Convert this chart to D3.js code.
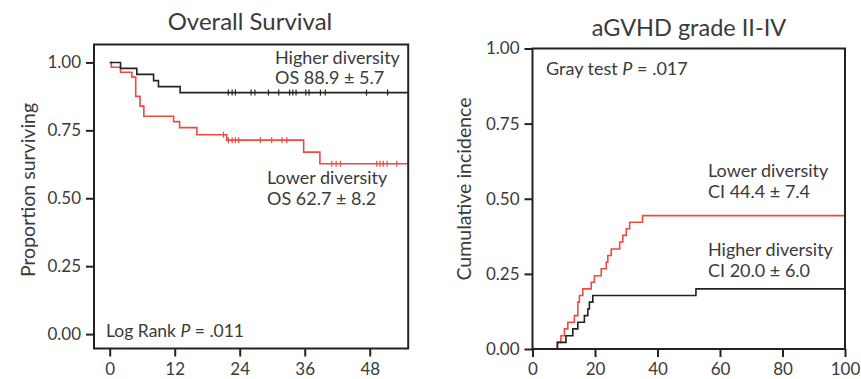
<!DOCTYPE html>
<html>
<head>
<meta charset="utf-8">
<script src="https://cdn.jsdelivr.net/npm/d3@7"></script>
<style>
  html, body { margin: 0; padding: 0; background: #fff; }
  svg { display: block; }
  text { font-family: Lato, "Open Sans", sans-serif; fill: #3a3a3a; }
</style>
</head>
<body>
<svg id="chart" width="861" height="379"></svg>
<script>
// ---- Overall survival (months) ----
const osTicks = [0, 12, 24, 36, 48];
const propTicks = [0, 0.25, 0.5, 0.75, 1];

const osHighTime = [0, 2.0, 5.0, 8.1, 9.0, 13.0];
const osHighSurv = [1, 0.978, 0.956, 0.933, 0.911, 0.889];
const osHighCensor = [21.9, 22.6, 23.2, 26.1, 26.8, 29.3, 31.2, 33.2, 33.8, 34.4, 36.2, 36.8, 38.9, 39.8, 47.4, 51.3];

const osLowTime = [0, 0.3, 2.0, 4.1, 4.8, 5.6, 6.3, 11.8, 12.9, 16.1, 21.6, 35.8, 38.8];
const osLowSurv = [1, 0.982, 0.964, 0.946, 0.875, 0.839, 0.802, 0.782, 0.760, 0.734, 0.714, 0.670, 0.627];
const osLowCensor = [21.0, 21.9, 22.6, 23.2, 23.8, 27.8, 29.9, 31.8, 32.7, 41.0, 41.8, 42.6, 49.3, 49.9, 50.5, 51.2, 53.0];

// ---- aGVHD grade II-IV cumulative incidence (days) ----
const gvhdTicks = [0, 20, 40, 60, 80, 100];
const ciTicks = [0, 0.25, 0.5, 0.75, 1];

const ciLowTime = [0, 7.9, 9.1, 10.2, 11.3, 13.4, 14.5, 15.0, 16.1, 18.8, 19.8, 22.0, 23.6, 24.1, 25.2, 27.9, 28.9, 30.0, 31.1, 35.2];
const ciLowInc = [0, 0.022, 0.044, 0.067, 0.089, 0.111, 0.156, 0.178, 0.200, 0.222, 0.244, 0.267, 0.289, 0.311, 0.333, 0.356, 0.378, 0.400, 0.422, 0.444];

const ciHighTime = [0, 8.0, 10.7, 12.9, 14.5, 16.6, 17.7, 18.2, 19.3, 52.3];
const ciHighInc = [0, 0.022, 0.044, 0.067, 0.089, 0.111, 0.133, 0.156, 0.178, 0.200];

const RED = "#f04a3f";
const DARK = "#222";
const TICK_FONT = 17;
const NOTE_FONT = 18;

const svg = d3.select("#chart");

function stepPoints(times, vals, tEnd) {
  const pts = times.map((t, i) => [t, vals[i]]);
  pts.push([tEnd, vals[vals.length - 1]]);
  return pts;
}
function valueAt(times, vals, t) {
  const i = d3.bisectRight(times, t) - 1;
  return vals[Math.max(0, i)];
}

function drawFrame(g, x, y) {
  const [x0, x1] = x.range();
  const [y0, y1] = y.range();
  g.append("rect")
    .attr("x", x0).attr("y", y1)
    .attr("width", x1 - x0).attr("height", y0 - y1)
    .attr("fill", "none").attr("stroke", DARK).attr("stroke-width", 2);
}

function drawAxes(g, x, y, xTicks, yTicks, yBase) {
  const xAxis = d3.axisBottom(x).tickValues(xTicks).tickSize(8).tickPadding(6).tickFormat(d3.format("d"));
  g.append("g").attr("transform", `translate(0,${yBase})`).call(xAxis)
    .call(a => a.select(".domain").remove())
    .call(a => a.selectAll("line").attr("stroke", DARK).attr("stroke-width", 2))
    .call(a => a.selectAll("text").attr("font-size", TICK_FONT).attr("fill", "#3a3a3a").attr("font-family", "Lato, sans-serif"));
  const xl = x.range()[0];
  const yAxis = d3.axisLeft(y).tickValues(yTicks).tickSize(8).tickPadding(5).tickFormat(d3.format(".2f"));
  g.append("g").attr("transform", `translate(${xl},0)`).call(yAxis)
    .call(a => a.select(".domain").remove())
    .call(a => a.selectAll("line").attr("stroke", DARK).attr("stroke-width", 2))
    .call(a => a.selectAll("text").attr("font-size", TICK_FONT).attr("fill", "#3a3a3a").attr("font-family", "Lato, sans-serif"));
}

// ===== Left panel: Overall Survival =====
{
  const x = d3.scaleLinear().domain([-2.9, 55.1]).range([94, 408.2]);
  const y = d3.scaleLinear().domain([-0.053, 1.066]).range([348.5, 44.5]);
  const g = svg.append("g");

  const line = d3.line().x(d => x(d[0])).y(d => y(d[1])).curve(d3.curveStepAfter);
  const tEnd = x.domain()[1];

  g.append("path").datum(stepPoints(osLowTime, osLowSurv, tEnd))
    .attr("d", line).attr("fill", "none").attr("stroke", RED).attr("stroke-width", 1.6);
  g.append("path").datum(stepPoints(osHighTime, osHighSurv, tEnd))
    .attr("d", line).attr("fill", "none").attr("stroke", DARK).attr("stroke-width", 1.6);

  g.selectAll(".cl").data(osLowCensor).join("line")
    .attr("x1", d => x(d)).attr("x2", d => x(d))
    .attr("y1", d => y(valueAt(osLowTime, osLowSurv, d)) - 3)
    .attr("y2", d => y(valueAt(osLowTime, osLowSurv, d)) + 3)
    .attr("stroke", RED).attr("stroke-width", 1.2);
  g.selectAll(".ch").data(osHighCensor).join("line")
    .attr("x1", d => x(d)).attr("x2", d => x(d))
    .attr("y1", d => y(valueAt(osHighTime, osHighSurv, d)) - 3)
    .attr("y2", d => y(valueAt(osHighTime, osHighSurv, d)) + 3)
    .attr("stroke", DARK).attr("stroke-width", 1.2);

  drawFrame(g, x, y);
  drawAxes(g, x, y, osTicks, propTicks, 348.5);

  g.append("text").attr("x", 250).attr("y", 30).attr("text-anchor", "middle")
    .attr("font-size", 24).text("Overall Survival");
  g.append("text").attr("transform", "translate(35,190) rotate(-90)").attr("text-anchor", "middle")
    .attr("font-size", 19.5).attr("font-family", "'Open Sans', sans-serif").text("Proportion surviving");

  const ann = [
    ["Higher diversity", 275, 64],
    ["OS 88.9 \u00b1 5.7", 275, 84],
    ["Lower diversity", 267, 184],
    ["OS 62.7 \u00b1 8.2", 267, 205]
  ];
  g.selectAll(".ann").data(ann).join("text")
    .attr("x", d => d[1]).attr("y", d => d[2]).attr("font-size", NOTE_FONT).text(d => d[0]);

  const lr = g.append("text").attr("x", 106).attr("y", 337).attr("font-size", 17.5);
  lr.append("tspan").text("Log Rank ");
  lr.append("tspan").attr("font-style", "italic").text("P");
  lr.append("tspan").text(" = .011");
}

// ===== Right panel: aGVHD grade II-IV =====
{
  const x = d3.scaleLinear().domain([0, 100]).range([532.5, 845]);
  const y = d3.scaleLinear().domain([0, 1]).range([349, 48.5]);
  const g = svg.append("g");

  const line = d3.line().x(d => x(d[0])).y(d => y(d[1])).curve(d3.curveStepAfter);

  g.append("path").datum(stepPoints(ciLowTime, ciLowInc, 100))
    .attr("d", line).attr("fill", "none").attr("stroke", RED).attr("stroke-width", 1.6);
  g.append("path").datum(stepPoints(ciHighTime, ciHighInc, 100))
    .attr("d", line).attr("fill", "none").attr("stroke", DARK).attr("stroke-width", 1.6);

  drawFrame(g, x, y);
  drawAxes(g, x, y, gvhdTicks, ciTicks, 349);

  g.append("text").attr("x", 689).attr("y", 36).attr("text-anchor", "middle")
    .attr("font-size", 23.5).text("aGVHD grade II-IV");
  g.append("text").attr("transform", "translate(471,189) rotate(-90)").attr("text-anchor", "middle")
    .attr("font-size", 19.5).attr("font-family", "'Open Sans', sans-serif").text("Cumulative incidence");

  const gt = g.append("text").attr("x", 546).attr("y", 75).attr("font-size", 18);
  gt.append("tspan").text("Gray test ");
  gt.append("tspan").attr("font-style", "italic").text("P");
  gt.append("tspan").text(" = .017");

  const ann = [
    ["Lower diversity", 708, 177],
    ["CI 44.4 \u00b1 7.4", 708, 198],
    ["Higher diversity", 708, 256],
    ["CI 20.0 \u00b1 6.0", 708, 277]
  ];
  g.selectAll(".ann").data(ann).join("text")
    .attr("x", d => d[1]).attr("y", d => d[2]).attr("font-size", NOTE_FONT).text(d => d[0]);
}
</script>
</body>
</html>
